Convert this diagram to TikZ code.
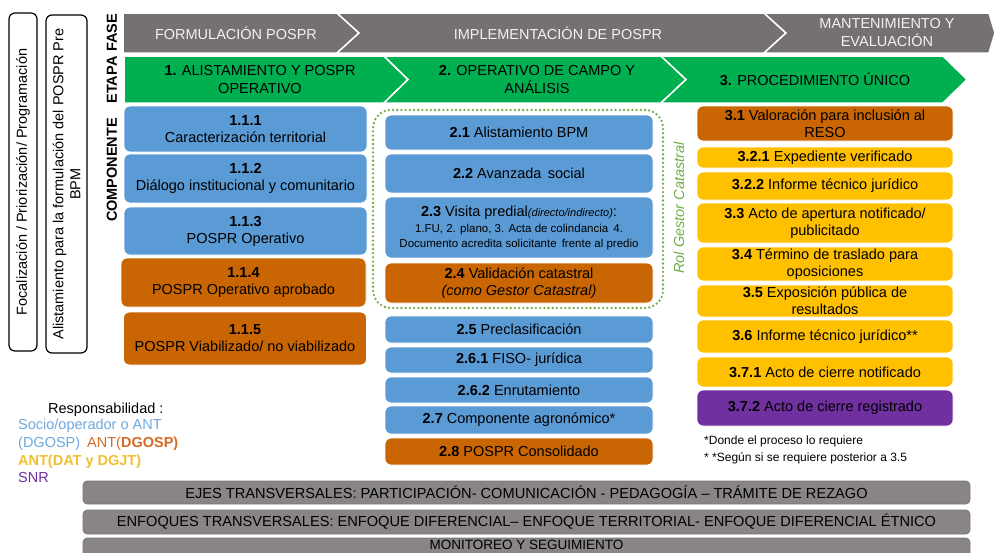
\documentclass[tikz,border=0pt]{standalone}
\usepackage{fontspec}
\setmainfont{Liberation Sans}
\usetikzlibrary{calc}

\definecolor{fasegray}{RGB}{118,113,113}
\definecolor{etapagreen}{RGB}{0,176,80}
\definecolor{compblue}{RGB}{91,155,213}
\definecolor{comporange}{RGB}{201,101,2}
\definecolor{compyellow}{RGB}{255,192,0}
\definecolor{comppurple}{RGB}{112,48,160}
\definecolor{rolgreen}{RGB}{112,173,71}
\definecolor{bargray}{RGB}{137,133,133}
\definecolor{legblue}{RGB}{111,168,220}
\definecolor{legorange}{RGB}{212,108,38}
\definecolor{legyellow}{RGB}{240,192,48}

\newcommand{\chica}{\fontsize{11.5}{14}\selectfont}

\tikzset{
  comp/.style={rounded corners=6pt, draw=white, line width=0.8pt, align=center,
    inner sep=1pt, text=black, font=\fontsize{14.5}{17}\selectfont},
  colone/.style={comp, minimum width=243},
  coltwo/.style={comp, minimum width=268},
  colthree/.style={comp, minimum width=256},
  rowlabel/.style={rotate=90, font=\fontsize{14.5}{17}\selectfont\bfseries},
  sidebox/.style={draw=black, line width=1.2pt, rounded corners=6pt, fill=white,
    rotate=90, align=center, inner sep=1pt, font=\fontsize{14.5}{17}\selectfont},
  fasetext/.style={text={rgb,255:red,242;green,242;blue,242}, align=center,
    font=\fontsize{14.5}{18}\selectfont},
  etapatext/.style={text=black, align=center, font=\fontsize{14.5}{18}\selectfont},
  barbox/.style={fill=bargray, draw={rgb,255:red,120;green,116;blue,116}, line width=0.6pt,
    rounded corners=4pt, minimum width=887, font=\fontsize{14.6}{16}\selectfont}
}

\begin{document}
\begin{tikzpicture}[x=1pt, y=-1pt]
        \useasboundingbox (0,0) rectangle (995,552);

        \fill[fasegray, draw=white, line width=1.5pt] (123,13) -- (337,13) -- (359,33) -- (337,53) -- (123,53) -- cycle;
        \fill[fasegray, draw=white, line width=1.5pt] (337,13) -- (764,13) -- (786,33) -- (764,53) -- (337,53) -- (359,33) -- cycle;
        \fill[fasegray, draw=white, line width=1.5pt] (764,13) -- (989,13) -- (995,33) -- (989,53) -- (764,53) -- (786,33) -- cycle;

        \fill[etapagreen, draw=white, line width=1.5pt] (124,56) -- (384,56) -- (408,79.5) -- (384,103) -- (124,103) -- cycle;
        \fill[etapagreen, draw=white, line width=1.5pt] (384,56) -- (661,56) -- (686,79.5) -- (661,103) -- (384,103) -- (408,79.5) -- cycle;
        \fill[etapagreen, draw=white, line width=1.5pt] (661,56) -- (943,56) -- (967,79.5) -- (943,103) -- (661,103) -- (686,79.5) -- cycle;

        \node[fasetext] (f1) at (236,33) {FORMULACIÓN POSPR};
        \node[fasetext] (f2) at (558,33) {IMPLEMENTACIÓN DE POSPR};
        \node[fasetext] (f3) at (887,33) {MANTENIMIENTO Y\\EVALUACIÓN};

        \node[etapatext] (e1) at (260,79.5) {\textbf{1.} ALISTAMIENTO Y POSPR\\OPERATIVO};
        \node[etapatext] (e2) at (537,79.5) {\textbf{2.} OPERATIVO DE CAMPO Y\\ANÁLISIS};
        \node[etapatext] (e3) at (815,79.5) {\textbf{3.} PROCEDIMIENTO ÚNICO};

        \node[rowlabel] (fase) at (112,33) {FASE};
        \node[rowlabel] (etapa) at (112,80) {ETAPA};
        \node[rowlabel] (componente) at (112,170) {COMPONENTE};

        \node[sidebox, minimum width=338, minimum height=28] (foc) at (23,182) {Focalización / Priorización/ Programación};
        \node[sidebox, minimum width=338, minimum height=41] (alis) at (66.5,184) {Alistamiento para la formulación del POSPR Pre\\BPM};

        \node[colone, fill=compblue, minimum height=46] (c111) at (245.5,129) {\textbf{1.1.1}\\Caracterización territorial};
        \node[colone, fill=compblue, minimum height=49] (c112) at (245.5,178.5) {\textbf{1.1.2}\\Diálogo institucional y comunitario};
        \node[colone, fill=compblue, minimum height=48] (c113) at (245.5,231) {\textbf{1.1.3}\\POSPR Operativo};
        \node[colone, fill=comporange, minimum width=245, minimum height=49] (c114) at (243.5,282.5) {\textbf{1.1.4}\\POSPR Operativo aprobado};
        \node[colone, fill=comporange, minimum height=53] (c115) at (245,338.5) {\textbf{1.1.5}\\POSPR Viabilizado/ no viabilizado};

        \node[rounded corners=18pt, draw=rolgreen, line width=2.6pt, line cap=round, dash pattern=on 0pt off 4.2pt,
              minimum width=290, minimum height=198] (rol) at (518,209) {};
        \node[rotate=90, text=rolgreen, font=\fontsize{14.5}{17}\selectfont\itshape] (rolt) at (679,208) {Rol Gestor Catastral};

        \node[coltwo, fill=compblue, minimum height=35] (c21) at (519,132.5) {\textbf{2.1} Alistamiento BPM};
        \node[coltwo, fill=compblue, minimum height=39] (c22) at (519,173.5) {\textbf{2.2} Avanzada\, social};
        \node[coltwo, fill=compblue, minimum height=61] (c23) at (519,227.5) {\textbf{2.3} Visita predial{\fontsize{11}{13}\selectfont\itshape(directo/indirecto)}:\\[-1pt]
              {\chica 1.FU, 2. plano, 3. Acta de colindancia\, 4.}\\[-2pt]{\chica Documento acredita solicitante\, frente al predio}};
        \node[coltwo, fill=comporange, minimum height=40] (c24) at (519,283) {\textbf{2.4} Validación catastral\\\textit{(como Gestor Catastral)}};
        \node[coltwo, fill=compblue, minimum height=27] (c25) at (519,329.5) {\textbf{2.5} Preclasificación};
        \node[coltwo, fill=compblue, minimum height=26] (c261) at (519,360) {\textbf{2.6.1} FISO- jurídica};
        \node[coltwo, fill=compblue, minimum height=26] (c262) at (519,390) {\textbf{2.6.2} Enrutamiento};
        \node[coltwo, fill=compblue, minimum height=28] (c27) at (519,420) {\textbf{2.7} Componente agronómico*};
        \node[coltwo, fill=comporange, minimum height=27] (c28) at (519,451.5) {\textbf{2.8} POSPR Consolidado};

        \node[colthree, fill=comporange, minimum height=35] (c31) at (825,123.5) {\textbf{3.1} Valoración para inclusión al\\RESO};
        \node[colthree, fill=compyellow, minimum height=21] (c321) at (825,157.5) {\textbf{3.2.1} Expediente verificado};
        \node[colthree, fill=compyellow, minimum height=28] (c322) at (825,186) {\textbf{3.2.2} Informe técnico jurídico};
        \node[colthree, fill=compyellow, minimum height=40] (c33) at (825,223) {\textbf{3.3} Acto de apertura notificado/\\publicitado};
        \node[colthree, fill=compyellow, minimum height=34] (c34) at (825,264) {\textbf{3.4} Término de traslado para\\oposiciones};
        \node[colthree, fill=compyellow, minimum height=32] (c35) at (825,301) {\textbf{3.5} Exposición pública de\\resultados};
        \node[colthree, fill=compyellow, minimum height=33] (c36) at (825,336.5) {\textbf{3.6} Informe técnico jurídico**};
        \node[colthree, fill=compyellow, minimum height=30] (c371) at (825,372) {\textbf{3.7.1} Acto de cierre notificado};
        \node[colthree, fill=comppurple, minimum height=36] (c372) at (825,408) {\textbf{3.7.2} Acto de cierre registrado};

        \node[anchor=west, align=left, inner sep=0pt, font=\fontsize{12}{17}\selectfont] (nota) at (704,449.5)
              {*Donde el proceso lo requiere\\* *Según si se requiere posterior a 3.5};

        \node[anchor=west, inner sep=0pt, font=\fontsize{14.5}{17}\selectfont] (resp) at (48,410) {Responsabilidad :};
        \node[anchor=north west, align=left, inner sep=0pt, font=\fontsize{14.5}{17.7}\selectfont] (leyenda) at (18,419)
              {\color{legblue}Socio/operador o ANT\\
               \color{legblue}(DGOSP)\hspace{7pt}\color{legorange}ANT(\textbf{DGOSP)}\\
               \color{legyellow}\textbf{ANT(DAT y DGJT)}\\
               \color{comppurple}SNR};

        \node[barbox, minimum height=23] (ejes) at (526.5,492.5) {EJES TRANSVERSALES: PARTICIPACIÓN- COMUNICACIÓN - PEDAGOGÍA – TRÁMITE DE REZAGO};
        \node[barbox, minimum height=24] (enfoques) at (526.5,522) {ENFOQUES TRANSVERSALES: ENFOQUE DIFERENCIAL– ENFOQUE TERRITORIAL- ENFOQUE DIFERENCIAL ÉTNICO};
        \node[barbox, minimum height=28] (monbar) at (526.5,552) {};
        \node[inner sep=0pt, font=\fontsize{13.5}{15}\selectfont] (monitoreo) at (526.5,545) {MONITOREO Y SEGUIMIENTO};
    \end{tikzpicture}
\end{document}
